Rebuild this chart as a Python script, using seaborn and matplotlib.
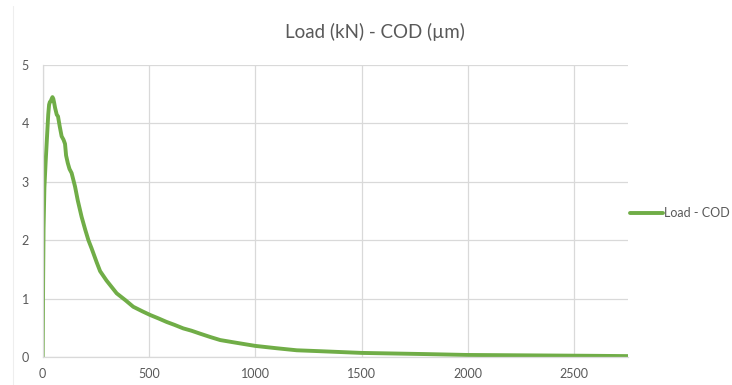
import matplotlib
matplotlib.use("Agg")
import matplotlib.pyplot as plt
import seaborn as sns
import pandas as pd
from matplotlib.lines import Line2D

# COD (µm) and Load (kN)
cod = [0, 1, 2, 4, 8, 14, 20, 26, 30, 34, 38, 42, 46, 50, 54, 58, 66, 72, 80,
       89, 98, 105, 110, 118, 126, 136, 152, 165, 183, 200, 215, 230, 254, 270,
       300, 348, 390, 426, 470, 505, 545, 583, 620, 661, 700, 740, 790, 835,
       900, 1000, 1100, 1195, 1300, 1400, 1500, 1650, 1800, 1994, 2200, 2400,
       2600, 2760]
load = [0, 0.6, 1.3, 2.2, 2.9, 3.35, 3.75, 4.15, 4.32, 4.37, 4.38, 4.42, 4.45,
        4.42, 4.35, 4.27, 4.15, 4.12, 3.95, 3.78, 3.72, 3.65, 3.45, 3.32, 3.22,
        3.15, 2.92, 2.68, 2.40, 2.18, 2.00, 1.86, 1.62, 1.47, 1.31, 1.09, 0.97,
        0.86, 0.78, 0.72, 0.66, 0.60, 0.55, 0.49, 0.45, 0.40, 0.34, 0.29, 0.25,
        0.19, 0.15, 0.115, 0.10, 0.085, 0.07, 0.06, 0.05, 0.035, 0.03, 0.025,
        0.02, 0.015]
series_name = "Load - COD"
title = "Load (kN) - COD (\u00b5m)"
x_ticks = [0, 500, 1000, 1500, 2000, 2500]
y_ticks = [0, 1, 2, 3, 4, 5]

df = pd.DataFrame({"COD": cod, "Load": load, "series": series_name})

sns.set_style("white")
plt.rcParams["font.family"] = ["Lato", "DejaVu Sans"]

fig = plt.figure(figsize=(7.32, 3.85), dpi=100)
ax = fig.add_axes([42.7 / 732, (385 - 357) / 385, (628 - 42.7) / 732, (357 - 65) / 385])

green = "#70AD47"
sns.lineplot(data=df, x="COD", y="Load", ax=ax, color=green, linewidth=2.8,
             legend=False, estimator=None, sort=False)

ax.set_xlim(0, 2753)
ax.set_ylim(0, 5)
ax.set_xticks(x_ticks)
ax.set_yticks(y_ticks)
ax.set_xticklabels([str(t) for t in x_ticks])
ax.set_yticklabels([str(t) for t in y_ticks])
ax.set_xlabel("")
ax.set_ylabel("")
ax.grid(True, color="#D9D9D9", linewidth=0.9)
ax.set_axisbelow(True)
for s in ["top", "right"]:
    ax.spines[s].set_visible(False)
for s in ["bottom", "left"]:
    ax.spines[s].set_color("#D9D9D9")
    ax.spines[s].set_linewidth(0.9)
ax.tick_params(axis="both", length=0, labelsize=9, labelcolor="#595959")
ax.tick_params(axis="x", pad=8)
ax.tick_params(axis="y", pad=10)

fig.text(375 / 732, 1 - 32 / 385, title, ha="center", va="center",
         fontsize=13.5, color="#595959")

handle = Line2D([0], [0], color=green, linewidth=2.8)
fig.legend([handle], [series_name], loc="center left",
           bbox_to_anchor=(630 / 732, 1 - 213 / 385), frameon=False,
           fontsize=9, handlelength=2.6, handletextpad=0.15,
           labelcolor="#595959", borderaxespad=0, borderpad=0)

fig.add_artist(Line2D([12.5 / 732, 12.5 / 732], [0, 1 - 6 / 385],
                      transform=fig.transFigure, color="#EEEEEE", linewidth=0.8))

fig.savefig("out.png", dpi=100)
